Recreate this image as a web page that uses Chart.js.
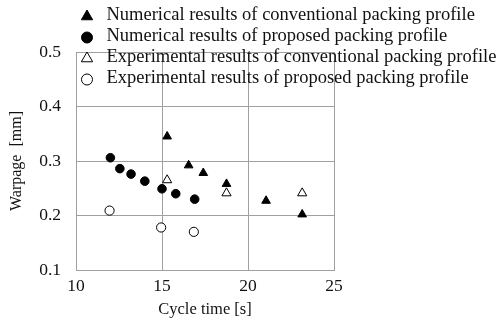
<!DOCTYPE html>
<html>
<head>
<meta charset="utf-8">
<script src="https://cdn.jsdelivr.net/npm/chart.js@4"></script>
<style>
  html, body { margin: 0; padding: 0; background: #fff; }
  #wrap { width: 500px; height: 321px; }
</style>
</head>
<body>
<div id="wrap"><canvas id="warpChart" width="500" height="321"></canvas></div>
<script>
// values
const numConvTime = [15.3, 16.55, 17.4, 18.75, 21.05, 23.15];
const numConvWarp = [0.345, 0.292, 0.278, 0.258, 0.227, 0.202];
const numPropTime = [12.0, 12.55, 13.2, 14.0, 15.0, 15.8, 16.9];
const numPropWarp = [0.306, 0.286, 0.276, 0.263, 0.249, 0.240, 0.230];
const expConvTime = [15.3, 18.75, 23.15];
const expConvWarp = [0.265, 0.241, 0.241];
const expPropTime = [11.95, 14.95, 16.85];
const expPropWarp = [0.209, 0.178, 0.170];

const seriesLabels = [
    'Numerical results of conventional packing profile',
    'Numerical results of proposed packing profile',
    'Experimental results of conventional packing profile',
    'Experimental results of proposed packing profile'
];

const serif = "'Liberation Serif', 'DejaVu Serif', serif";

function toPoints(xs, ys) {
    return xs.map((x, i) => ({ x: x, y: ys[i] }));
}

// legend drawn on top of the plot, no background, like the original
const overlayLegend = {
    id: 'overlayLegend',
    afterDraw(chart) {
        const ctx = chart.ctx;
        ctx.save();
        ctx.font = '18.5px ' + serif;
        ctx.textBaseline = 'middle';
        chart.data.datasets.forEach((ds, i) => {
            const y = 15.5 + i * 21;
            ctx.fillStyle = ds.backgroundColor;
            ctx.strokeStyle = ds.borderColor;
            ctx.lineWidth = 1;
            Chart.helpers.drawPoint(ctx, {
                pointStyle: ds.pointStyle,
                radius: ds.pointStyle === 'triangle' ? 6.5 : 5.5,
                borderWidth: 1,
                rotation: 0
            }, 87, y + 1);
            ctx.fillStyle = '#111';
            ctx.fillText(ds.label, 106.5, y);
        });
        ctx.restore();
    }
};

function initializeWarpageChart() {
    const ctx = document.getElementById('warpChart').getContext('2d');
    new Chart(ctx, {
        type: 'scatter',
        data: {
            datasets: [{
                label: seriesLabels[0],
                data: toPoints(numConvTime, numConvWarp),
                pointStyle: 'triangle',
                pointRadius: 5,
                backgroundColor: '#000',
                borderColor: '#000',
                borderWidth: 1
            }, {
                label: seriesLabels[1],
                data: toPoints(numPropTime, numPropWarp),
                pointStyle: 'circle',
                pointRadius: 4.3,
                backgroundColor: '#000',
                borderColor: '#000',
                borderWidth: 1
            }, {
                label: seriesLabels[2],
                data: toPoints(expConvTime, expConvWarp),
                pointStyle: 'triangle',
                pointRadius: 5.3,
                backgroundColor: '#fff',
                borderColor: '#000',
                borderWidth: 1
            }, {
                label: seriesLabels[3],
                data: toPoints(expPropTime, expPropWarp),
                pointStyle: 'circle',
                pointRadius: 4.6,
                backgroundColor: '#fff',
                borderColor: '#000',
                borderWidth: 1
            }]
        },
        options: {
            responsive: false,
            animation: false,
            layout: { padding: { left: 0, right: 166, top: 52, bottom: 0 } },
            plugins: {
                legend: { display: false },
                tooltip: { enabled: false }
            },
            scales: {
                x: {
                    type: 'linear',
                    min: 10,
                    max: 25,
                    ticks: { stepSize: 5, color: '#111', padding: 6, font: { family: serif, size: 17.5 } },
                    grid: { color: '#a0a0a0', drawTicks: false },
                    border: { color: '#a0a0a0' },
                    title: { display: true, text: 'Cycle time [s]', color: '#111', padding: { top: 0, bottom: 1 }, font: { family: serif, size: 16.5 } },
                    afterFit(scale) { scale.height = 51; }
                },
                y: {
                    min: 0.1,
                    max: 0.5,
                    ticks: { stepSize: 0.1, color: '#111', padding: 15, font: { family: serif, size: 17.5 },
                        callback: v => v.toFixed(1) },
                    grid: { color: '#a0a0a0', drawTicks: false },
                    border: { color: '#a0a0a0' },
                    title: { display: true, text: 'Warpage  [mm]', color: '#111', padding: { top: 7, bottom: 0 }, font: { family: serif, size: 16 } },
                    afterFit(scale) { scale.width = 76; }
                }
            }
        },
        plugins: [overlayLegend]
    });
}

document.addEventListener('DOMContentLoaded', initializeWarpageChart);
</script>
</body>
</html>
